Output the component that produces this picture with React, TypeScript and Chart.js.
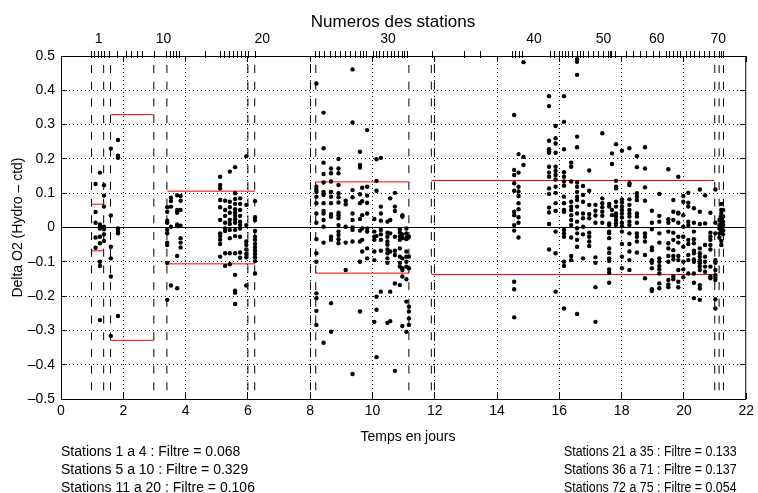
import React, { useEffect, useRef } from "react";
import { Chart, registerables } from "chart.js";
Chart.register(...registerables);

const FONT = "'Liberation Sans', Arial, Helvetica, sans-serif";

// ---- axes -----------------------------------------------------------------
const xTickValues = [0, 2, 4, 6, 8, 10, 12, 14, 16, 18, 20, 22];
const yTickValues = [-0.5, -0.4, -0.3, -0.2, -0.1, 0, 0.1, 0.2, 0.3, 0.4, 0.5];

// top axis: station ticks (time in days) and the labelled station numbers
const stationTickTimes = [
  0.98, 1.09, 1.19, 1.3, 1.4, 1.56, 1.8, 2.1, 2.26, 2.45, 2.63, 3.0, 3.39, 3.5,
  3.61, 3.71, 3.82, 4.65, 5.11, 5.26, 5.4, 5.53, 5.66, 5.79, 5.93, 6.03, 6.23,
  8.16, 8.29, 8.46, 8.64, 8.8, 8.96, 9.12, 9.28, 9.44, 9.6, 9.71, 9.81, 10.03,
  10.13, 10.24, 10.34, 10.48, 10.61, 10.72, 10.82, 10.95, 11.04, 11.14, 11.94,
  12.95, 13.48, 14.5, 14.6, 14.71, 14.82, 15.72, 15.83, 15.99, 16.09, 16.2,
  16.31, 16.41, 16.57, 16.68, 16.78, 16.94, 17.1, 17.26, 17.42, 17.58, 17.63,
  17.69, 17.79, 18.17, 18.38, 18.59, 18.8, 19.02, 19.23, 19.44, 19.55, 19.66,
  19.79, 19.89, 20.08, 20.21, 20.35, 20.51, 20.67, 20.83, 20.99, 21.13, 21.2,
  21.27,
];
const stationLabels = ["1", "10", "20", "30", "40", "50", "60", "70"];
const stationLabelTimes = [1.21, 3.29, 6.46, 10.5, 15.19, 17.42, 19.13, 21.1];

// dashed vertical lines (cast / group boundaries)
const castLineTimes = [
  0.98, 1.37, 1.59, 2.98, 3.4, 6.0, 6.22, 8.01, 8.18, 11.17, 11.89, 11.99,
  20.99, 21.13, 21.27,
];

// ---- filter thresholds ----------------------------------------------------
const filterGroups = [
  "Stations 1 a 4",
  "Stations 5 a 10",
  "Stations 11 a 20",
  "Stations 21 a 35",
  "Stations 36 a 71",
  "Stations 72 a 75",
];
const filterValues = [0.068, 0.329, 0.106, 0.133, 0.137, 0.054];
const filterStart = [0.98, 1.6, 3.42, 8.18, 11.89, 21.15];
const filterEnd = [1.37, 2.98, 6.23, 11.17, 20.97, 21.27];

// ---- measured differences: [time, values at that time] ---------------------
const group1Columns: [number, number[]][] = [
  [1.11, [0.127, 0.045, 0.014, -0.029, -0.059]],
  [1.25, [0.16, 0.009, 0.004, -0.003, -0.027, -0.046, -0.1, -0.112, -0.27]],
  [1.38, [0.123, 0.093, 0.061, 0.002, -0.005, -0.02, -0.039]],
];
const group2Columns: [number, number[]][] = [
  [1.6, [0.23, 0.035, -0.056, -0.09, -0.143, -0.316]],
  [1.83, [0.255, 0.209, 0.203, -0.003, -0.01, -0.017, -0.258]],
];
const group3Columns: [number, number[]][] = [
  [3.41, [0.059, 0.046, 0.02, 0.014, -0.007, -0.017, -0.044, -0.051, -0.103, -0.211]],
  [3.53, [0.087, 0.077, 0.061, 0.002, -0.169]],
  [3.73, [0.094, 0.051, 0.043, 0.009, 0.004, -0.083, -0.177]],
  [3.84, [0.092, 0.078, 0.051, 0.005, -0.031, -0.044, -0.058]],
  [5.11, [0.148, 0.124, 0.114, 0.08, 0.059, 0.022, -0.017, -0.025, -0.036, -0.048, -0.085]],
  [5.27, [0.078, 0.051, 0.034, 0.014, -0.003, -0.01, -0.075, -0.112]],
  [5.42, [0.163, 0.075, 0.059, 0.043, 0.022, 0.01, -0.007, -0.031, -0.075, -0.107]],
  [5.59, [0.176, 0.1, 0.083, 0.069, 0.053, 0.043, 0.034, 0.024, 0.014, -0.007, -0.025, -0.075, -0.138, -0.184, -0.19, -0.223]],
  [5.75, [0.085, 0.069, 0.051, 0.034, 0.017, 0.007, -0.003, -0.027, -0.073, -0.088]],
  [5.95, [0.208, 0.066, 0.007, -0.041, -0.051, -0.064, -0.077, -0.087, -0.169]],
  [6.23, [0.077, 0.03, 0.022, -0.01, -0.027, -0.036, -0.048, -0.058, -0.068, -0.077, -0.087, -0.098, -0.134]],
];
const group4Columns: [number, number[]][] = [
  [8.2, [0.42, 0.119, 0.11, 0.104, 0.09, 0.071, 0.041, 0.014, -0.034, -0.075, -0.1, -0.192, -0.206, -0.243, -0.284]],
  [8.43, [0.335, 0.231, 0.189, 0.156, 0.131, 0.104, 0.095, 0.071, 0.048, 0.041, 0.022, 0.002, -0.044, -0.336]],
  [8.67, [0.172, 0.158, 0.134, 0.104, 0.09, 0.071, 0.039, 0.031, -0.027, -0.036, -0.221, -0.304]],
  [8.91, [0.2, 0.172, 0.158, 0.124, 0.1, 0.088, 0.073, 0.043, 0.036, 0.027, 0.007, -0.012, -0.022, -0.034, -0.046]],
  [9.14, [0.078, 0.068, 0.002, -0.044, -0.124]],
  [9.36, [0.461, 0.306, 0.109, 0.088, 0.041, 0.022, 0.0, -0.007, -0.041, -0.427]],
  [9.6, [0.221, 0.182, 0.175, 0.097, 0.071, 0.025, -0.009, -0.041, -0.1, -0.245]],
  [9.67, [0.116, 0.077, 0.036, -0.003, -0.036, -0.07]],
  [9.83, [0.284, 0.119, 0.093, 0.072, 0.041, -0.003, -0.012, -0.061, -0.09]],
  [10.06, [0.025, -0.012, -0.027, -0.036, -0.07, -0.095, -0.275]],
  [10.13, [0.199, 0.136, 0.107, -0.025, -0.202, -0.24, -0.378]],
  [10.27, [0.203, 0.061, 0.041, 0.02, -0.007, -0.02, -0.036, -0.068, -0.187]],
  [10.48, [0.017, -0.015, -0.027, -0.041, -0.05, -0.064, -0.075, -0.09, -0.103, -0.278]],
  [10.57, [0.085, 0.022, -0.017, -0.07, -0.187, -0.273]],
  [10.72, [0.101, 0.061, 0.048, -0.027, -0.068, -0.08, -0.163, -0.418]],
  [10.88, [-0.005, -0.015, -0.027, -0.036, -0.061, -0.085, -0.103, -0.114, -0.168]],
  [10.96, [0.036, 0.031, -0.02, -0.031, -0.09, -0.119, -0.124, -0.143, -0.287]],
  [11.09, [-0.003, -0.017, -0.029, -0.034, -0.07, -0.085, -0.1, -0.114, -0.151, -0.216, -0.304]],
  [11.17, [-0.027, -0.085, -0.119, -0.231, -0.245, -0.265, -0.284]],
];
const group5Columns: [number, number[]][] = [
  [14.55, [0.328, 0.168, 0.153, 0.129, 0.107, 0.046, 0.036, 0.007, -0.009, -0.158, -0.18, -0.262]],
  [14.69, [0.214, 0.16, 0.119, 0.105, 0.092, 0.071, 0.053, 0.03, 0.014, -0.029]],
  [14.85, [0.482, 0.206, 0.182]],
  [15.67, [0.383, 0.354, 0.253, 0.228, 0.222, 0.218, 0.177, 0.16, 0.148, 0.114, 0.098, 0.058, 0.044, 0.01, -0.064]],
  [15.88, [0.296, 0.26, 0.245, 0.218, 0.177, 0.165, 0.153, 0.14, 0.119, 0.101, 0.071, 0.048, -0.012, -0.075, -0.187]],
  [16.15, [0.383, 0.308, 0.228, 0.161, 0.148, 0.134, 0.122, 0.09, 0.071, 0.051, 0.046, -0.007, -0.017, -0.027, -0.1, -0.112, -0.236]],
  [16.38, [0.189, 0.177, 0.134, 0.075, 0.061, 0.051, 0.036, 0.022, 0.007, -0.029, -0.083, -0.095]],
  [16.57, [0.491, 0.483, 0.445, 0.265, 0.234, 0.131, 0.119, 0.104, 0.09, 0.08, 0.061, 0.041, 0.017, -0.002, -0.017, -0.036, -0.056, -0.252]],
  [16.76, [0.121, 0.095, 0.075, 0.041, 0.027, 0.002, -0.02, -0.09]],
  [16.96, [0.166, 0.107, 0.066, 0.039, 0.027, -0.015, -0.027, -0.041, -0.054]],
  [17.16, [0.066, 0.049, 0.035, 0.014, -0.087, -0.103, -0.174, -0.275]],
  [17.38, [0.275, 0.085, 0.071, 0.059, 0.046, 0.034, 0.014]],
  [17.6, [0.069, 0.061, 0.012, 0.007, -0.012, -0.017, -0.031, -0.061, -0.074, -0.09, -0.097, -0.122, -0.132, -0.161]],
  [17.69, [0.216, 0.185, 0.051, 0.036]],
  [17.82, [0.243, 0.136, 0.119, 0.114, 0.075, 0.061, 0.041, 0.032, 0.022, 0.012, 0.007]],
  [18.01, [0.224, 0.082, 0.073, 0.061, 0.051, 0.041, 0.029, 0.014, 0.004, -0.012, -0.048, -0.085, -0.119]],
  [18.25, [0.231, 0.129, 0.124, 0.082, 0.066, 0.051, 0.041, 0.032, 0.017, 0.007, -0.017, -0.048, -0.07, -0.095, -0.124]],
  [18.49, [0.208, 0.176, 0.1, 0.09, 0.08, 0.041, 0.032, 0.014, -0.017, -0.027, -0.041, -0.073]],
  [18.75, [0.234, 0.172, 0.117, 0.078, -0.017, -0.027, -0.041, -0.08, -0.148]],
  [18.97, [0.049, 0.014, -0.005, -0.058, -0.066, -0.095, -0.103, -0.119, -0.18, -0.185]],
  [19.21, [0.098, 0.034, 0.017, -0.017, -0.044, -0.09, -0.1, -0.112, -0.122, -0.134, -0.163, -0.177]],
  [19.5, [0.17, 0.024, 0.014, -0.012, -0.046, -0.061, -0.083, -0.1, -0.153, -0.166, -0.174]],
  [19.66, [0.08, 0.046, 0.022, -0.015, -0.036, -0.066, -0.083, -0.093, -0.143, -0.151]],
  [19.82, [0.148, 0.043, 0.041, 0.014, -0.027, -0.044, -0.083, -0.095, -0.124, -0.158, -0.174]],
  [19.98, [0.092, 0.075, 0.036, 0.002, -0.027, -0.056, -0.1, -0.122, -0.145]],
  [20.14, [0.101, 0.072, 0.061, 0.017, 0.007, -0.036, -0.048, -0.08, -0.095, -0.134]],
  [20.32, [0.056, 0.014, -0.012, -0.034, -0.046, -0.068, -0.075, -0.093, -0.1, -0.134, -0.161, -0.206]],
  [20.51, [0.111, 0.046, 0.01, -0.061, -0.075, -0.085, -0.095, -0.104, -0.114, -0.124, -0.168, -0.178, -0.211]],
  [20.68, [0.094, 0.012, -0.051, -0.085, -0.1, -0.114, -0.129]],
  [20.85, [0.043, -0.015, -0.027, -0.036, -0.051, -0.064, -0.114, -0.143, -0.148]],
  [21.01, [0.111, 0.014, -0.017, -0.095, -0.103, -0.124, -0.139, -0.146, -0.153, -0.209, -0.236]],
];
const group6Columns: [number, number[]][] = [
  [21.14, [0.022, 0.007, -0.003, -0.017, -0.029]],
  [21.2, [0.069, 0.051, 0.041, 0.032, 0.022, 0.012, -0.003, -0.01, -0.039, -0.051]],
  [21.26, [0.051, 0.032, 0.017, 0.007, -0.008, -0.02]],
];

const allColumns = [
  ...group1Columns,
  ...group2Columns,
  ...group3Columns,
  ...group4Columns,
  ...group5Columns,
  ...group6Columns,
];

function fmtY(v: number): string {
  const r = Math.round(v * 10) / 10;
  if (r === 0) return "0";
  return r < 0 ? "\u2013" + Math.abs(r).toString() : r.toString();
}

const decorPlugin = {
  id: "matlabDecor",
  beforeDatasetsDraw(chart: any) {
    const { ctx, chartArea: a, scales } = chart;
    const x = scales.x;
    const y = scales.y;
    ctx.save();
    // dotted grid
    ctx.strokeStyle = "#000";
    ctx.lineWidth = 1;
    ctx.setLineDash([1, 3]);
    for (const v of xTickValues) {
      if (v <= 0 || v >= 22) continue;
      const p = Math.round(x.getPixelForValue(v) - 0.5) + 0.5;
      ctx.beginPath();
      ctx.moveTo(p, a.top);
      ctx.lineTo(p, a.bottom);
      ctx.stroke();
    }
    for (const v of yTickValues) {
      if (Math.abs(v) < 1e-9 || Math.abs(v) >= 0.5) continue;
      const p = Math.round(y.getPixelForValue(v) - 0.5) + 0.5;
      ctx.beginPath();
      ctx.moveTo(a.left, p);
      ctx.lineTo(a.right, p);
      ctx.stroke();
    }
    // dashed cast lines
    ctx.setLineDash([8, 8.7]);
    ctx.lineDashOffset = 7.7;
    for (const t of castLineTimes) {
      const p = x.getPixelForValue(t);
      ctx.beginPath();
      ctx.moveTo(p, a.top);
      ctx.lineTo(p, a.bottom);
      ctx.stroke();
    }
    ctx.setLineDash([]);
    ctx.lineDashOffset = 0;
    // zero line
    const z = Math.round(y.getPixelForValue(0) - 0.5) + 0.5;
    ctx.beginPath();
    ctx.moveTo(a.left, z);
    ctx.lineTo(a.right, z);
    ctx.stroke();
    ctx.restore();
  },
  afterDraw(chart: any) {
    const { ctx, chartArea: a, scales } = chart;
    const x = scales.x;
    const y = scales.y;
    ctx.save();
    ctx.strokeStyle = "#000";
    ctx.lineWidth = 1;
    ctx.setLineDash([]);
    // box
    ctx.strokeRect(a.left + 0.5, a.top + 0.5, a.right - a.left - 1, a.bottom - a.top);
    // inward major ticks
    ctx.beginPath();
    for (const v of xTickValues) {
      const p = Math.round(x.getPixelForValue(v) - 0.5) + 0.5;
      ctx.moveTo(p, a.bottom);
      ctx.lineTo(p, a.bottom - 6);
      ctx.moveTo(p, a.top);
      ctx.lineTo(p, a.top + 6);
    }
    for (const v of yTickValues) {
      const p = Math.round(y.getPixelForValue(v) - 0.5) + 0.5;
      ctx.moveTo(a.left, p);
      ctx.lineTo(a.left + 6, p);
      ctx.moveTo(a.right, p);
      ctx.lineTo(a.right - 6, p);
    }
    ctx.stroke();
    // station ticks (top axis)
    ctx.beginPath();
    for (const t of stationTickTimes) {
      const p = Math.round(x.getPixelForValue(t) - 0.5) + 0.5;
      ctx.moveTo(p, a.top - 5);
      ctx.lineTo(p, a.top + 2);
    }
    ctx.stroke();
    ctx.fillStyle = "#000";
    ctx.textAlign = "center";
    ctx.textBaseline = "alphabetic";
    ctx.font = `14px ${FONT}`;
    stationLabels.forEach((lab, i) => {
      ctx.fillText(lab, x.getPixelForValue(stationLabelTimes[i]), 43);
    });
    ctx.font = `17px ${FONT}`;
    ctx.fillText("Numeros des stations", 393, 27);
    ctx.font = `14px ${FONT}`;
    ctx.fillText("Temps en jours", 408, 441);
    // y label
    ctx.save();
    ctx.translate(22, (a.top + a.bottom) / 2);
    ctx.rotate(-Math.PI / 2);
    ctx.fillText("Delta O2 (Hydro \u2013 ctd)", 0, 0);
    ctx.restore();
    // filter annotations
    ctx.textAlign = "left";
    ctx.font = `14px ${FONT}`;
    filterGroups.forEach((g, i) => {
      const col = i < 3 ? 0 : 1;
      const row = i % 3;
      const txt = `${g} : Filtre = ${filterValues[i].toFixed(3)}`;
      const by = 456 + row * 18;
      if (col === 0) {
        ctx.fillText(txt, a.left, by);
      } else {
        ctx.save();
        ctx.translate(564, by);
        ctx.scale(0.885, 1);
        ctx.fillText(txt, 0, 0);
        ctx.restore();
      }
    });
    ctx.restore();
  },
};

export default function App() {
  const ref = useRef<HTMLCanvasElement>(null);
  useEffect(() => {
    document.body.style.margin = "0";
    const points = allColumns.flatMap(([t, vals]) => vals.map((v) => ({ x: t, y: v })));
    const redSets: any[] = [];
    filterValues.forEach((f, i) => {
      for (const s of [1, -1]) {
        redSets.push({
          type: "line",
          data: [
            { x: filterStart[i], y: s * f },
            { x: filterEnd[i], y: s * f },
          ],
          borderColor: "#ff0000",
          borderWidth: 1,
          pointRadius: 0,
          showLine: true,
          fill: false,
        });
      }
    });
    const chart = new Chart(ref.current!, {
      type: "scatter",
      data: {
        datasets: [
          {
            data: points,
            backgroundColor: "#000",
            borderWidth: 0,
            pointRadius: 2.2,
            pointHoverRadius: 2.2,
          },
          ...redSets,
        ],
      },
      options: {
        animation: false,
        responsive: false,
        events: [],
        layout: { padding: { left: 0, right: 8, top: 56, bottom: 0 } },
        plugins: { legend: { display: false }, tooltip: { enabled: false } },
        scales: {
          x: {
            type: "linear",
            min: 0,
            max: 22,
            grid: { display: false, drawTicks: false },
            border: { display: false },
            afterBuildTicks: (s: any) => {
              s.ticks = xTickValues.map((v) => ({ value: v }));
            },
            afterFit: (s: any) => {
              s.height = 94;
            },
            ticks: {
              color: "#000",
              font: { family: FONT, size: 14 },
              padding: 4,
              maxRotation: 0,
              autoSkip: false,
              callback: (v: any) => String(v),
            },
          },
          y: {
            type: "linear",
            min: -0.5,
            max: 0.5,
            grid: { display: false, drawTicks: false },
            border: { display: false },
            afterBuildTicks: (s: any) => {
              s.ticks = yTickValues.map((v) => ({ value: v }));
            },
            afterFit: (s: any) => {
              s.width = 61;
            },
            ticks: {
              color: "#000",
              font: { family: FONT, size: 14 },
              padding: 6,
              autoSkip: false,
              callback: (v: any) => fmtY(Number(v)),
            },
          },
        },
      },
      plugins: [decorPlugin],
    });
    return () => chart.destroy();
  }, []);
  return (
    <div style={{ width: 758, height: 493 }}>
      <canvas ref={ref} width={758} height={493} style={{ display: "block", width: 758, height: 493 }} />
    </div>
  );
}
